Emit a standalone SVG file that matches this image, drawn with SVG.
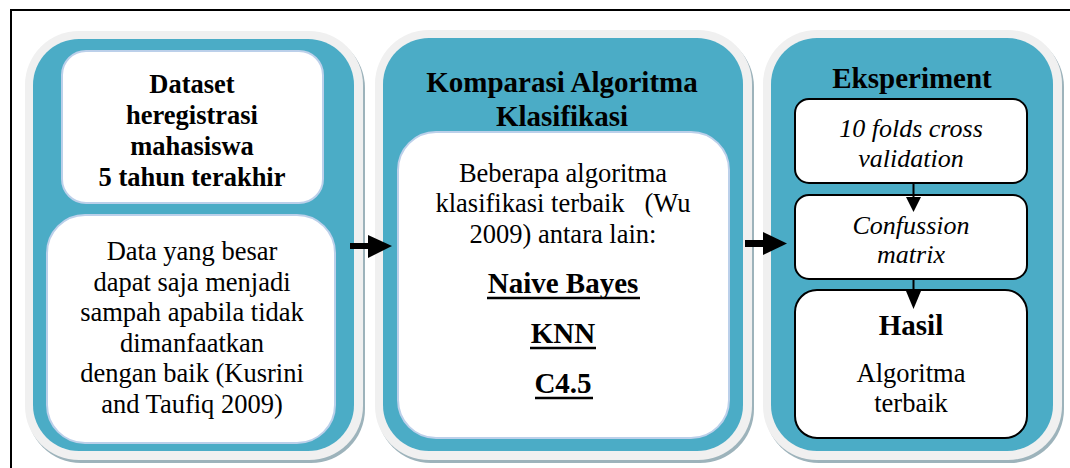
<svg xmlns="http://www.w3.org/2000/svg" width="1070" height="468" viewBox="0 0 1070 468">
<defs>
<style>
.shadow{fill:#9db3bb}
.rim{fill:#f0f0f0}
.panel{fill:#4bacc6}
.wbox{fill:#ffffff;stroke:#bcd0ea;stroke-width:2}
.bbox{fill:#ffffff;stroke:#000000;stroke-width:2}
text{font-family:'Liberation Serif','Times New Roman',Times,'Tinos','Noto Serif','DejaVu Serif','FreeSerif',Georgia,serif;fill:#000;text-anchor:middle}
.b{font-weight:bold;font-size:26.5px}
.t{font-weight:bold;font-size:29px}
.r{font-size:26.5px}
.i{font-style:italic;font-size:26px}
.ul{stroke:#000;stroke-width:2.5}
.arr{fill:#000}
.conn{stroke:#000;stroke-width:2}
</style>
</defs>
<rect width="1070" height="468" fill="#ffffff"/>
<path d="M11,470 V10 H1072" fill="none" stroke="#000" stroke-width="2"/>

<g id="panel1">
<rect class="shadow" x="27" y="34" width="338" height="429" rx="54"/>
<rect class="rim" x="25" y="31" width="338" height="429" rx="54"/>
<rect class="panel" x="33" y="39" width="321" height="412" rx="46"/>
<g id="p1box1">
<rect class="wbox" x="62" y="51" width="261" height="152" rx="24"/>
<text class="b" x="192" y="93">Dataset</text>
<text class="b" x="192" y="124">heregistrasi</text>
<text class="b" x="192" y="155">mahasiswa</text>
<text class="b" x="192" y="186">5 tahun terakhir</text>
</g>
<g id="p1box2">
<rect class="wbox" x="47" y="215" width="288" height="228" rx="38"/>
<text class="r" x="192" y="260">Data yang besar</text>
<text class="r" x="192" y="290.5">dapat saja menjadi</text>
<text class="r" x="192" y="321">sampah apabila tidak</text>
<text class="r" x="192" y="351.5">dimanfaatkan</text>
<text class="r" x="192" y="382">dengan baik (Kusrini</text>
<text class="r" x="192" y="412.5">and Taufiq 2009)</text>
</g>
</g>

<g id="panel2">
<rect class="shadow" x="377" y="33" width="377" height="430" rx="54"/>
<rect class="rim" x="375" y="30" width="377" height="430" rx="54"/>
<rect class="panel" x="383" y="38" width="360" height="413" rx="46"/>
<text class="t" x="562" y="92">Komparasi Algoritma</text>
<text class="t" x="562" y="126">Klasifikasi</text>
<g id="p2box">
<rect class="wbox" x="398" y="132" width="331" height="306" rx="38"/>
<text class="r" x="563" y="182">Beberapa algoritma</text>
<text class="r" x="563" y="212" style="white-space:pre">klasifikasi terbaik   (Wu</text>
<text class="r" x="563" y="243">2009) antara lain:</text>
<text class="t" x="563" y="293">Naive Bayes</text>
<line class="ul" x1="487" y1="298" x2="640" y2="298"/>
<text class="t" x="563" y="343">KNN</text>
<line class="ul" x1="530" y1="348" x2="596" y2="348"/>
<text class="t" x="563" y="393">C4.5</text>
<line class="ul" x1="535" y1="398" x2="593" y2="398"/>
</g>
</g>

<g id="panel3">
<rect class="shadow" x="765" y="33" width="299" height="430" rx="54"/>
<rect class="rim" x="763" y="30" width="299" height="430" rx="54"/>
<rect class="panel" x="771" y="38" width="282" height="413" rx="46"/>
<text class="t" x="912" y="88">Eksperiment</text>
<g id="p3boxA">
<rect class="bbox" x="795" y="99" width="232" height="84" rx="14"/>
<text class="i" x="911" y="137">10 folds cross</text>
<text class="i" x="911" y="167">validation</text>
</g>
<g id="p3boxB">
<rect class="bbox" x="795" y="195" width="232" height="84" rx="14"/>
<text class="i" x="911" y="234">Confussion</text>
<text class="i" x="911" y="263">matrix</text>
</g>
<g id="p3boxC">
<rect class="bbox" x="795" y="290" width="232" height="148" rx="22"/>
<text class="t" x="911" y="335">Hasil</text>
<text class="r" x="911" y="382">Algoritma</text>
<text class="r" x="911" y="412">terbaik</text>
</g>
</g>

<g id="connectors">
<rect class="arr" x="350" y="243" width="19" height="6"/>
<polygon class="arr" points="368,235 392,246 368,258"/>
<rect class="arr" x="745" y="240" width="19" height="7"/>
<polygon class="arr" points="763,232 787,243.5 763,255"/>
<line class="conn" x1="913.5" y1="183" x2="913.5" y2="199"/>
<polygon class="arr" points="906,197 921,197 913.5,212"/>
<line class="conn" x1="913.5" y1="279" x2="913.5" y2="293"/>
<polygon class="arr" points="906,291 921,291 913.5,309"/>
</g>
</svg>
